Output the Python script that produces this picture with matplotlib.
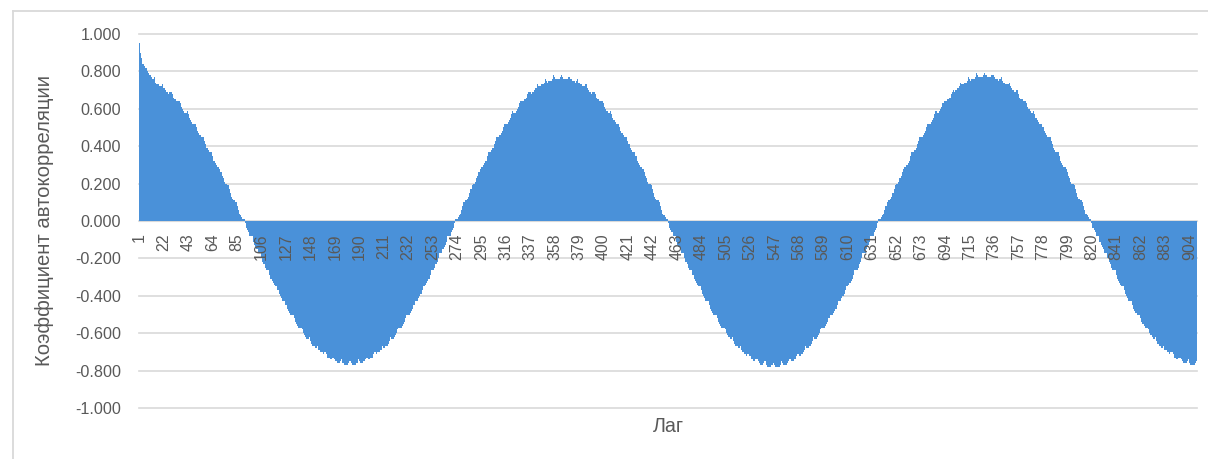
import numpy as np
import matplotlib.pyplot as plt
from matplotlib.lines import Line2D

# autocorrelation coefficients (lags 1..910)
acf_lags_1_182 = [
    .95, .90, .87, .84, .83, .82, .82, .80, .79, .78, .77, .76, .76, .77,
    .74, .73, .73, .72, .72, .72, .73, .71, .70, .69, .69, .68, .69, .69,
    .68, .66, .65, .65, .64, .64, .64, .63, .61, .60, .59, .58, .58, .59,
    .57, .55, .54, .53, .52, .52, .52, .50, .48, .47, .46, .45, .45, .45,
    .43, .41, .39, .38, .37, .37, .37, .35, .32, .31, .30, .29, .29, .28,
    .26, .24, .23, .21, .20, .20, .19, .17, .15, .13, .12, .11, .11, .10,
    .08, .06, .04, .03, .02, .01, .01, -.01, -.04, -.05, -.06, -.08, -.08, -.08,
    -.11, -.13, -.14, -.15, -.17, -.17, -.17, -.20, -.22, -.23, -.25, -.26, -.26, -.26,
    -.29, -.31, -.32, -.33, -.34, -.35, -.35, -.37, -.39, -.40, -.41, -.43, -.43, -.43,
    -.45, -.47, -.48, -.49, -.50, -.50, -.50, -.52, -.54, -.55, -.56, -.57, -.57, -.57,
    -.58, -.60, -.61, -.62, -.63, -.63, -.62, -.64, -.66, -.67, -.67, -.68, -.68, -.67,
    -.69, -.69, -.70, -.70, -.71, -.70, -.70, -.71, -.73, -.73, -.74, -.74, -.73, -.73,
    -.74, -.75, -.76, -.76, -.76, -.75, -.74, -.76, -.77, -.77, -.77, -.77, -.76, -.75,
]
acf_lags_183_364 = [
    -.76, -.77, -.77, -.77, -.77, -.76, -.74, -.75, -.76, -.76, -.76, -.75, -.74, -.73,
    -.73, -.74, -.74, -.73, -.73, -.71, -.70, -.70, -.71, -.70, -.70, -.69, -.69, -.67,
    -.68, -.68, -.67, -.67, -.66, -.64, -.62, -.63, -.63, -.62, -.61, -.60, -.58, -.57,
    -.57, -.57, -.56, -.55, -.54, -.52, -.50, -.50, -.50, -.49, -.48, -.47, -.45, -.43,
    -.43, -.43, -.41, -.40, -.39, -.37, -.35, -.35, -.34, -.33, -.32, -.31, -.29, -.26,
    -.26, -.26, -.25, -.23, -.22, -.20, -.17, -.17, -.17, -.15, -.14, -.13, -.11, -.08,
    -.08, -.08, -.06, -.05, -.04, -.01, .01, .01, .02, .03, .04, .06, .08, .10,
    .11, .11, .12, .13, .15, .17, .19, .20, .20, .21, .23, .24, .26, .28,
    .29, .29, .30, .31, .32, .35, .37, .37, .37, .38, .39, .41, .43, .45,
    .45, .45, .46, .47, .48, .50, .52, .52, .52, .53, .54, .55, .57, .59,
    .58, .58, .59, .60, .61, .63, .64, .64, .64, .65, .65, .66, .68, .69,
    .69, .68, .69, .69, .70, .71, .73, .72, .72, .72, .73, .73, .74, .76,
    .75, .74, .75, .75, .75, .76, .78, .77, .76, .76, .76, .76, .77, .78,
]
acf_lags_365_546 = [
    .77, .76, .76, .76, .76, .77, .77, .76, .75, .75, .75, .74, .75, .76,
    .74, .73, .73, .72, .72, .72, .73, .71, .70, .69, .69, .68, .69, .69,
    .68, .66, .65, .65, .64, .64, .64, .63, .61, .60, .59, .58, .58, .59,
    .57, .55, .54, .53, .52, .52, .52, .50, .48, .47, .46, .45, .45, .45,
    .43, .41, .39, .38, .37, .37, .37, .35, .32, .31, .30, .29, .29, .28,
    .26, .24, .23, .21, .20, .20, .19, .17, .15, .13, .12, .11, .11, .10,
    .08, .06, .04, .03, .02, .01, .01, -.01, -.04, -.05, -.06, -.08, -.08, -.08,
    -.11, -.13, -.14, -.15, -.17, -.17, -.17, -.20, -.22, -.23, -.25, -.26, -.26, -.26,
    -.29, -.31, -.32, -.33, -.34, -.35, -.35, -.37, -.39, -.40, -.41, -.43, -.43, -.43,
    -.45, -.47, -.48, -.49, -.50, -.50, -.50, -.52, -.54, -.55, -.56, -.57, -.57, -.57,
    -.58, -.60, -.61, -.62, -.63, -.63, -.62, -.64, -.66, -.67, -.67, -.68, -.68, -.67,
    -.69, -.70, -.71, -.71, -.72, -.71, -.71, -.72, -.74, -.74, -.75, -.75, -.74, -.74,
    -.75, -.76, -.77, -.77, -.77, -.76, -.75, -.77, -.78, -.78, -.78, -.78, -.77, -.76,
]
acf_lags_547_728 = [
    -.77, -.78, -.78, -.78, -.78, -.77, -.75, -.76, -.77, -.77, -.77, -.76, -.75, -.74,
    -.74, -.75, -.75, -.74, -.74, -.72, -.71, -.71, -.72, -.71, -.71, -.70, -.69, -.67,
    -.68, -.68, -.67, -.67, -.66, -.64, -.62, -.63, -.63, -.62, -.61, -.60, -.58, -.57,
    -.57, -.57, -.56, -.55, -.54, -.52, -.50, -.50, -.50, -.49, -.48, -.47, -.45, -.43,
    -.43, -.43, -.41, -.40, -.39, -.37, -.35, -.35, -.34, -.33, -.32, -.31, -.29, -.26,
    -.26, -.26, -.25, -.23, -.22, -.20, -.17, -.17, -.17, -.15, -.14, -.13, -.11, -.08,
    -.08, -.08, -.06, -.05, -.04, -.01, .01, .01, .02, .03, .04, .06, .08, .10,
    .11, .11, .12, .13, .15, .17, .19, .20, .20, .21, .23, .24, .26, .28,
    .29, .29, .30, .31, .32, .35, .37, .37, .37, .38, .39, .41, .43, .45,
    .45, .45, .46, .47, .48, .50, .52, .52, .52, .53, .54, .55, .57, .59,
    .58, .58, .59, .60, .61, .63, .64, .64, .64, .65, .65, .66, .68, .69,
    .70, .69, .70, .70, .71, .72, .74, .73, .73, .73, .74, .74, .75, .77,
    .76, .75, .76, .76, .76, .77, .79, .78, .77, .77, .77, .77, .78, .79,
]
acf_lags_729_910 = [
    .78, .77, .77, .77, .77, .78, .78, .77, .76, .76, .76, .75, .76, .77,
    .75, .74, .74, .73, .73, .73, .74, .72, .71, .70, .70, .69, .70, .70,
    .68, .66, .65, .65, .64, .64, .64, .63, .61, .60, .59, .58, .58, .59,
    .57, .55, .54, .53, .52, .52, .52, .50, .48, .47, .46, .45, .45, .45,
    .43, .41, .39, .38, .37, .37, .37, .35, .32, .31, .30, .29, .29, .28,
    .26, .24, .23, .21, .20, .20, .19, .17, .15, .13, .12, .11, .11, .10,
    .08, .06, .04, .03, .02, .01, .01, -.01, -.04, -.05, -.06, -.08, -.08, -.08,
    -.11, -.13, -.14, -.15, -.17, -.17, -.17, -.20, -.22, -.23, -.25, -.26, -.26, -.26,
    -.29, -.31, -.32, -.33, -.34, -.35, -.35, -.37, -.39, -.40, -.41, -.43, -.43, -.43,
    -.45, -.47, -.48, -.49, -.50, -.50, -.50, -.52, -.54, -.55, -.56, -.57, -.57, -.57,
    -.58, -.60, -.61, -.62, -.63, -.63, -.62, -.64, -.66, -.67, -.67, -.68, -.68, -.67,
    -.69, -.69, -.70, -.70, -.71, -.70, -.70, -.71, -.73, -.73, -.74, -.74, -.73, -.73,
    -.74, -.75, -.76, -.76, -.76, -.75, -.74, -.76, -.77, -.77, -.77, -.77, -.76, -.75,
]

acf = (acf_lags_1_182 + acf_lags_183_364 + acf_lags_365_546
       + acf_lags_547_728 + acf_lags_729_910)
lags = np.arange(1, len(acf) + 1)
tick_lags = lags[::21]
y_ticks = [-1.0, -0.8, -0.6, -0.4, -0.2, 0.0, 0.2, 0.4, 0.6, 0.8, 1.0]

BAR = '#4A91D9'
GRID = '#D9D9D9'
TEXT = '#595959'

plt.rcParams['font.family'] = ['Liberation Sans', 'DejaVu Sans']

W, H = 1208, 459
fig = plt.figure(figsize=(W / 100, H / 100), dpi=100)
ax = fig.add_axes([139 / W, 1 - 408 / H, (1197 - 139) / W, (408 - 34) / H])

# gridlines under the bars, tick labels over them
for y in y_ticks:
    ax.axhline(y, color=GRID, lw=1.2, zorder=0, clip_on=False)
ax.bar(lags, acf, width=1.0, color=BAR, linewidth=0, zorder=1)

ax.set_xlim(0.5, len(acf) + 0.5)
ax.set_ylim(-1, 1)

for side in ['top', 'right', 'left']:
    ax.spines[side].set_visible(False)
ax.spines['bottom'].set_position(('data', 0))
ax.spines['bottom'].set_color(GRID)
ax.spines['bottom'].set_zorder(0.5)

ax.set_xticks(tick_lags)
ax.set_xticklabels([str(v) for v in tick_lags], rotation=90)
ax.set_yticks(y_ticks)
ax.set_yticklabels([f'{v:.3f}' for v in y_ticks])
ax.tick_params(axis='x', length=0, pad=9, labelsize=11.4, labelcolor=TEXT)
ax.tick_params(axis='y', length=0, pad=13, labelsize=11.6, labelcolor=TEXT)

fig.text(45 / W, 1 - 220 / H, 'Коэффициент автокорреляции', rotation=90,
         ha='center', va='center', fontsize=14.6, color=TEXT)
fig.text(668 / W, 1 - 427 / H, 'Лаг', ha='center', va='center',
         fontsize=14.2, color=TEXT)

# chart area border (only left and top edges are inside the picture)
fig.add_artist(Line2D([12.5 / W, 12.5 / W], [0, 1 - 11 / H],
                      transform=fig.transFigure, color=GRID, lw=1.3))
fig.add_artist(Line2D([12.5 / W, 1], [1 - 11 / H, 1 - 11 / H],
                      transform=fig.transFigure, color=GRID, lw=1.3))

fig.savefig('out.png', dpi=100)
